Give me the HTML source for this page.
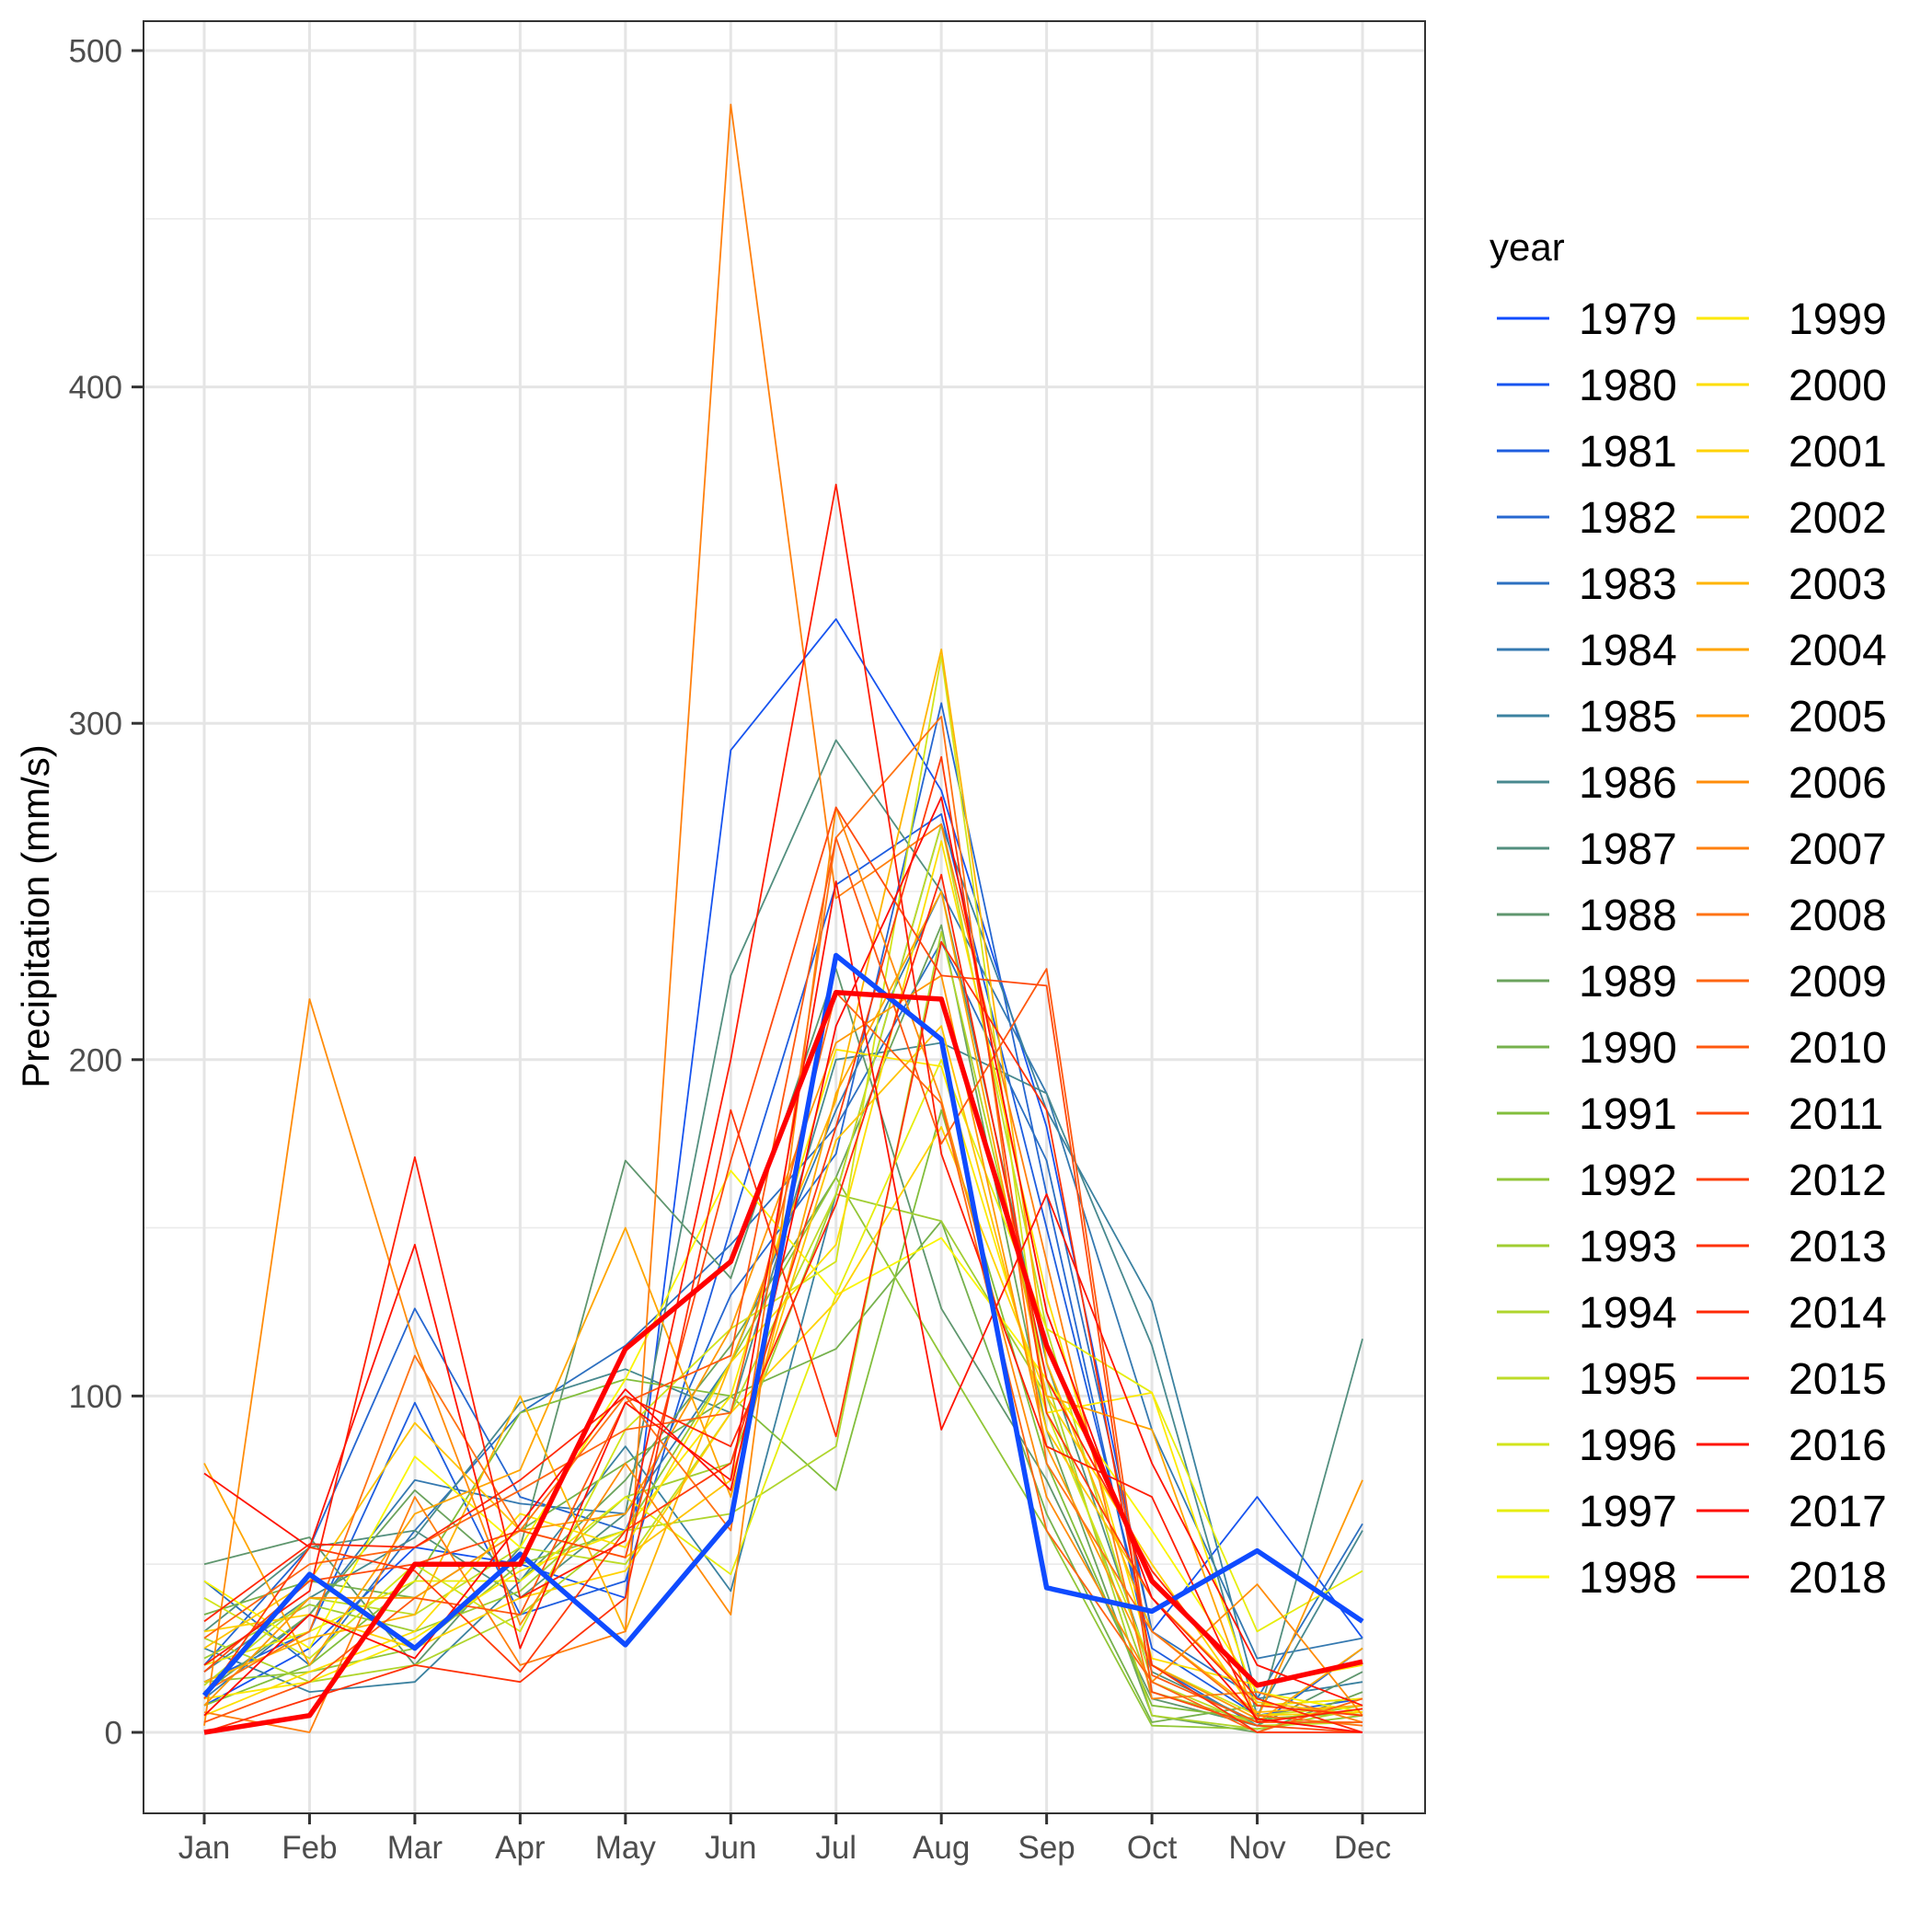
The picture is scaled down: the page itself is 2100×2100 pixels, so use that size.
<!DOCTYPE html>
<html><head><meta charset="utf-8"><style>
html,body{margin:0;padding:0;background:#fff;}
svg{display:block;font-family:"Liberation Sans",Arial,sans-serif;}
</style></head><body>
<svg id="chart" width="2100" height="2100" viewBox="0 0 2100 2100"></svg>
<script>
const months=["Jan","Feb","Mar","Apr","May","Jun","Jul","Aug","Sep","Oct","Nov","Dec"];
const yTicks=[0,100,200,300,400,500];
const years=[];for(let y=1979;y<=2018;y++)years.push(y);
const s1979=[11,47,25,53,26,63,231,206,43,36,54,33];
const s1980=[8,25,55,50,40,292,331,280,180,30,70,28];
const s1981=[15,30,98,35,45,150,252,273,150,25,5,10];
const s1982=[20,55,126,70,60,130,172,306,160,20,2,25];
const s1983=[45,20,60,95,115,145,180,235,170,30,10,62];
const s1984=[10,35,75,68,65,110,185,250,190,90,22,28];
const s1985=[25,12,15,45,85,42,160,270,185,128,10,15];
const s1986=[18,40,58,98,108,95,200,205,190,115,5,60];
const s1987=[30,55,60,40,65,225,295,250,110,18,3,117];
const s1988=[50,58,20,55,170,135,227,126,75,10,2,18];
const s1989=[12,35,72,45,75,115,165,240,90,5,0,12];
const s1990=[35,45,40,60,80,100,114,152,65,3,8,10];
const s1991=[8,20,45,95,105,100,72,185,80,8,4,6];
const s1992=[15,18,25,50,60,110,165,112,60,2,1,5];
const s1993=[22,38,30,42,70,80,160,152,100,12,3,8];
const s1994=[28,15,20,35,60,65,85,238,105,5,1,7];
const s1995=[14,40,35,55,50,95,160,270,120,15,2,3];
const s1996=[40,22,50,30,90,120,140,320,95,20,5,8];
const s1997=[20,30,45,45,70,47,130,200,120,101,30,48];
const s1998=[45,25,82,55,105,167,130,147,105,60,12,6];
const s1999=[10,15,28,48,60,100,203,198,95,101,8,10];
const s2000=[5,18,30,65,55,110,145,265,130,22,14,20];
const s2001=[30,35,25,40,48,95,128,180,100,50,5,6];
const s2002=[25,45,92,60,52,75,176,210,90,40,9,5];
const s2003=[15,28,35,100,30,110,188,322,110,30,6,8];
const s2004=[80,20,65,78,150,70,190,250,100,90,3,25];
const s2005=[8,40,40,60,65,120,205,225,85,20,4,75];
const s2006=[2,218,115,32,80,35,275,188,70,15,44,5];
const s2007=[6,0,70,20,30,484,248,270,140,10,12,3];
const s2008=[12,30,112,60,100,60,266,302,80,30,5,2];
const s2009=[28,50,55,72,90,95,220,187,60,15,0,10];
const s2010=[3,15,40,35,98,112,266,175,227,17,3,3];
const s2011=[18,45,50,60,52,170,275,225,222,12,2,0];
const s2012=[10,55,48,18,60,80,180,290,95,40,8,5];
const s2013=[0,10,20,15,40,185,88,235,185,20,0,0];
const s2014=[33,56,55,75,100,85,157,255,105,48,10,0];
const s2015=[20,42,171,40,57,200,371,172,85,70,3,7];
const s2016=[77,55,145,25,98,75,253,90,160,80,20,8];
const s2017=[5,35,22,62,102,72,210,278,125,40,4,0];
const s2018=[0,5,50,50,114,140,220,218,115,45,14,21];
const series=[s1979,s1980,s1981,s1982,s1983,s1984,s1985,s1986,s1987,s1988,s1989,s1990,s1991,s1992,s1993,s1994,s1995,s1996,s1997,s1998,s1999,s2000,s2001,s2002,s2003,s2004,s2005,s2006,s2007,s2008,s2009,s2010,s2011,s2012,s2013,s2014,s2015,s2016,s2017,s2018];

const NS="http://www.w3.org/2000/svg";
const svg=document.getElementById('chart');
const P={l:156,r:1549,t:23,b:1971};
const x=i=>222+i*(1481-222)/11;
const y=v=>1883-v*(1883-55)/500;
function mk(tag,at,parent){const e=document.createElementNS(NS,tag);for(const k in at)e.setAttribute(k,at[k]);(parent||svg).appendChild(e);return e;}
const stops=[[0,[15,75,255]],[6,[60,130,160]],[9,[95,150,110]],[12,[130,190,60]],[16,[190,220,40]],[19,[250,245,0]],[22,[255,210,0]],[25,[255,165,0]],[29,[255,115,20]],[33,[255,60,10]],[39,[255,0,0]]];
function col(i){for(let k=0;k<stops.length-1;k++){const a=stops[k],b=stops[k+1];if(i>=a[0]&&i<=b[0]){const t=(i-a[0])/(b[0]-a[0]);const c=a[1].map((v,j)=>Math.round(v+(b[1][j]-v)*t));return `rgb(${c[0]},${c[1]},${c[2]})`;}}return 'red';}

const grid=mk('g',{});


for(let v=50;v<=450;v+=100){const l=mk('line',{x1:P.l,x2:P.r,y1:y(v),y2:y(v),stroke:'#ebebeb','stroke-width':1.6},grid);

}
yTicks.forEach(v=>{const l=mk('line',{x1:P.l,x2:P.r,y1:y(v),y2:y(v),stroke:'#e5e5e5','stroke-width':3},grid);

});
months.forEach((m,i)=>{const l=mk('line',{x1:x(i),x2:x(i),y1:P.t,y2:P.b,stroke:'#e5e5e5','stroke-width':3},grid);

});

const lines=mk('g',{fill:'none','stroke-linejoin':'round'});


const order=[];for(let i=1;i<39;i++)order.push(i);order.push(0,39);
order.forEach(i=>{const d=series[i].map((v,j)=>(j?'L':'M')+x(j).toFixed(1)+' '+y(v).toFixed(1)).join(' ');
const thick=(i===0||i===39);
const p=mk('path',{d:d,stroke:col(i),'stroke-width':thick?5.5:1.8},lines);

});

const border=mk('rect',{x:P.l,y:P.t,width:P.r-P.l,height:P.b-P.t,fill:'none',stroke:'#333','stroke-width':2});



yTicks.forEach(v=>{const t=mk('line',{x1:143,x2:P.l,y1:y(v),y2:y(v),stroke:'#333','stroke-width':3});


const tx=mk('text',{x:133,y:y(v)+12.5,'text-anchor':'end','font-size':35,fill:'#4d4d4d'});tx.textContent=v;

});
months.forEach((m,i)=>{const t=mk('line',{x1:x(i),x2:x(i),y1:P.b,y2:P.b+12,stroke:'#333','stroke-width':3});


const tx=mk('text',{x:x(i),y:2020,'text-anchor':'middle','font-size':35,fill:'#4d4d4d'});tx.textContent=m;

});
const yt=mk('text',{x:0,y:0,transform:'translate(53,996) rotate(-90)','text-anchor':'middle','font-size':42,fill:'#000'});yt.textContent='Precipitation (mm/s)';



const lg=mk('g',{});


const lt=mk('text',{x:1619,y:283,'font-size':42,fill:'#000'},lg);lt.textContent='year';


years.forEach((yr,i)=>{const c=Math.floor(i/20),r=i%20;const ly=346+r*72;const lx=c?1844:1627;
const g=mk('g',{},lg);


mk('line',{x1:lx,x2:lx+57,y1:ly,y2:ly,stroke:col(i),'stroke-width':3},g);
const t=mk('text',{x:c?1944:1716,y:ly+17,'font-size':48,fill:'#000'},g);t.textContent=yr;});
</script>
</body></html>
